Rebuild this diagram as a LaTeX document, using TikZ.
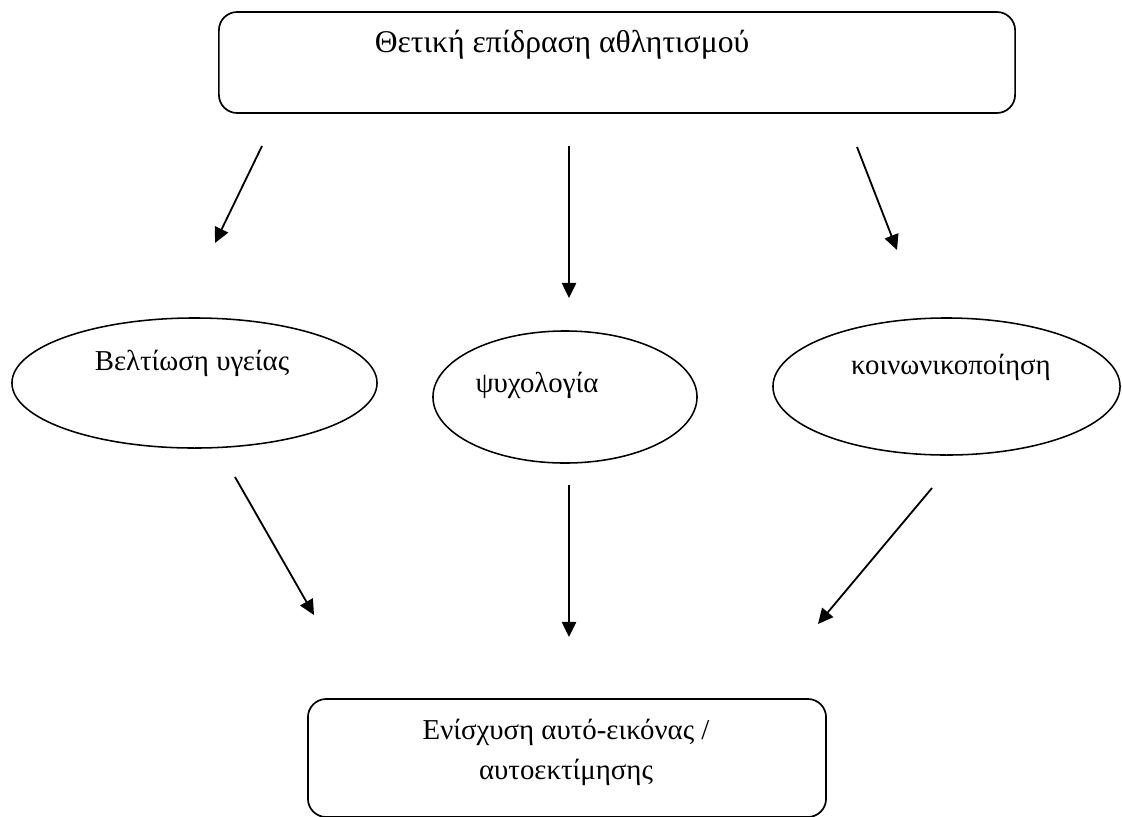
\documentclass[tikz,border=0pt]{standalone}
\usepackage{fontspec}
\setmainfont{Liberation Serif}
\usetikzlibrary{arrows.meta,shapes.geometric}

\begin{document}
\begin{tikzpicture}[x=0.025cm,y=-0.025cm,
    panel/.style={rounded corners=13pt,draw,line width=1.2pt,inner sep=0pt},
    bubble/.style={ellipse,draw,line width=1.1pt,inner sep=0pt},
    txt/.style={font=\fontsize{20.5}{28.5}\selectfont,align=center,inner sep=0pt},
    arr/.style={-{Triangle[length=0.38cm,width=0.36cm]},line width=1.3pt}
  ]
    \useasboundingbox (0,0) rectangle (1122,816);
    % boxes
    \node[panel,minimum width=19.9cm,minimum height=2.525cm] (effect) at (617,62.5) {};
    \node[txt,font=\fontsize{22.5}{28.5}\selectfont] (effecttxt) at (562,45) {Θετική επίδραση αθλητισμού};
    \node[panel,minimum width=12.95cm,minimum height=2.95cm] (self) at (567,758) {};
    \node[txt] (selftxt) at (566,752) {Ενίσχυση αυτό-εικόνας /\\αυτοεκτίμησης};
    % ellipses
    \node[bubble,minimum width=9.125cm,minimum height=3.25cm] (health) at (194.5,383) {};
    \node[txt] at (192,363) {Βελτίωση υγείας};
    \node[bubble,minimum width=6.6cm,minimum height=3.3cm] (psych) at (565,397) {};
    \node[txt] at (537,385) {ψυχολογία};
    \node[bubble,minimum width=8.675cm,minimum height=3.425cm] (social) at (946.5,386.5) {};
    \node[txt] at (951,367) {κοινωνικοποίηση};
    % arrow ends
    \coordinate (a1) at (262,146); \coordinate (b1) at (215,243);
    \coordinate (a2) at (569,146); \coordinate (b2) at (569,298);
    \coordinate (a3) at (857,147); \coordinate (b3) at (897,250);
    \coordinate (a4) at (235,477); \coordinate (b4) at (314,615);
    \coordinate (a5) at (569,485); \coordinate (b5) at (569,637);
    \coordinate (a6) at (932,488); \coordinate (b6) at (818,624);
    \foreach \i in {1,...,6}\draw[arr](a\i)--(b\i);
  \end{tikzpicture}
\end{document}
